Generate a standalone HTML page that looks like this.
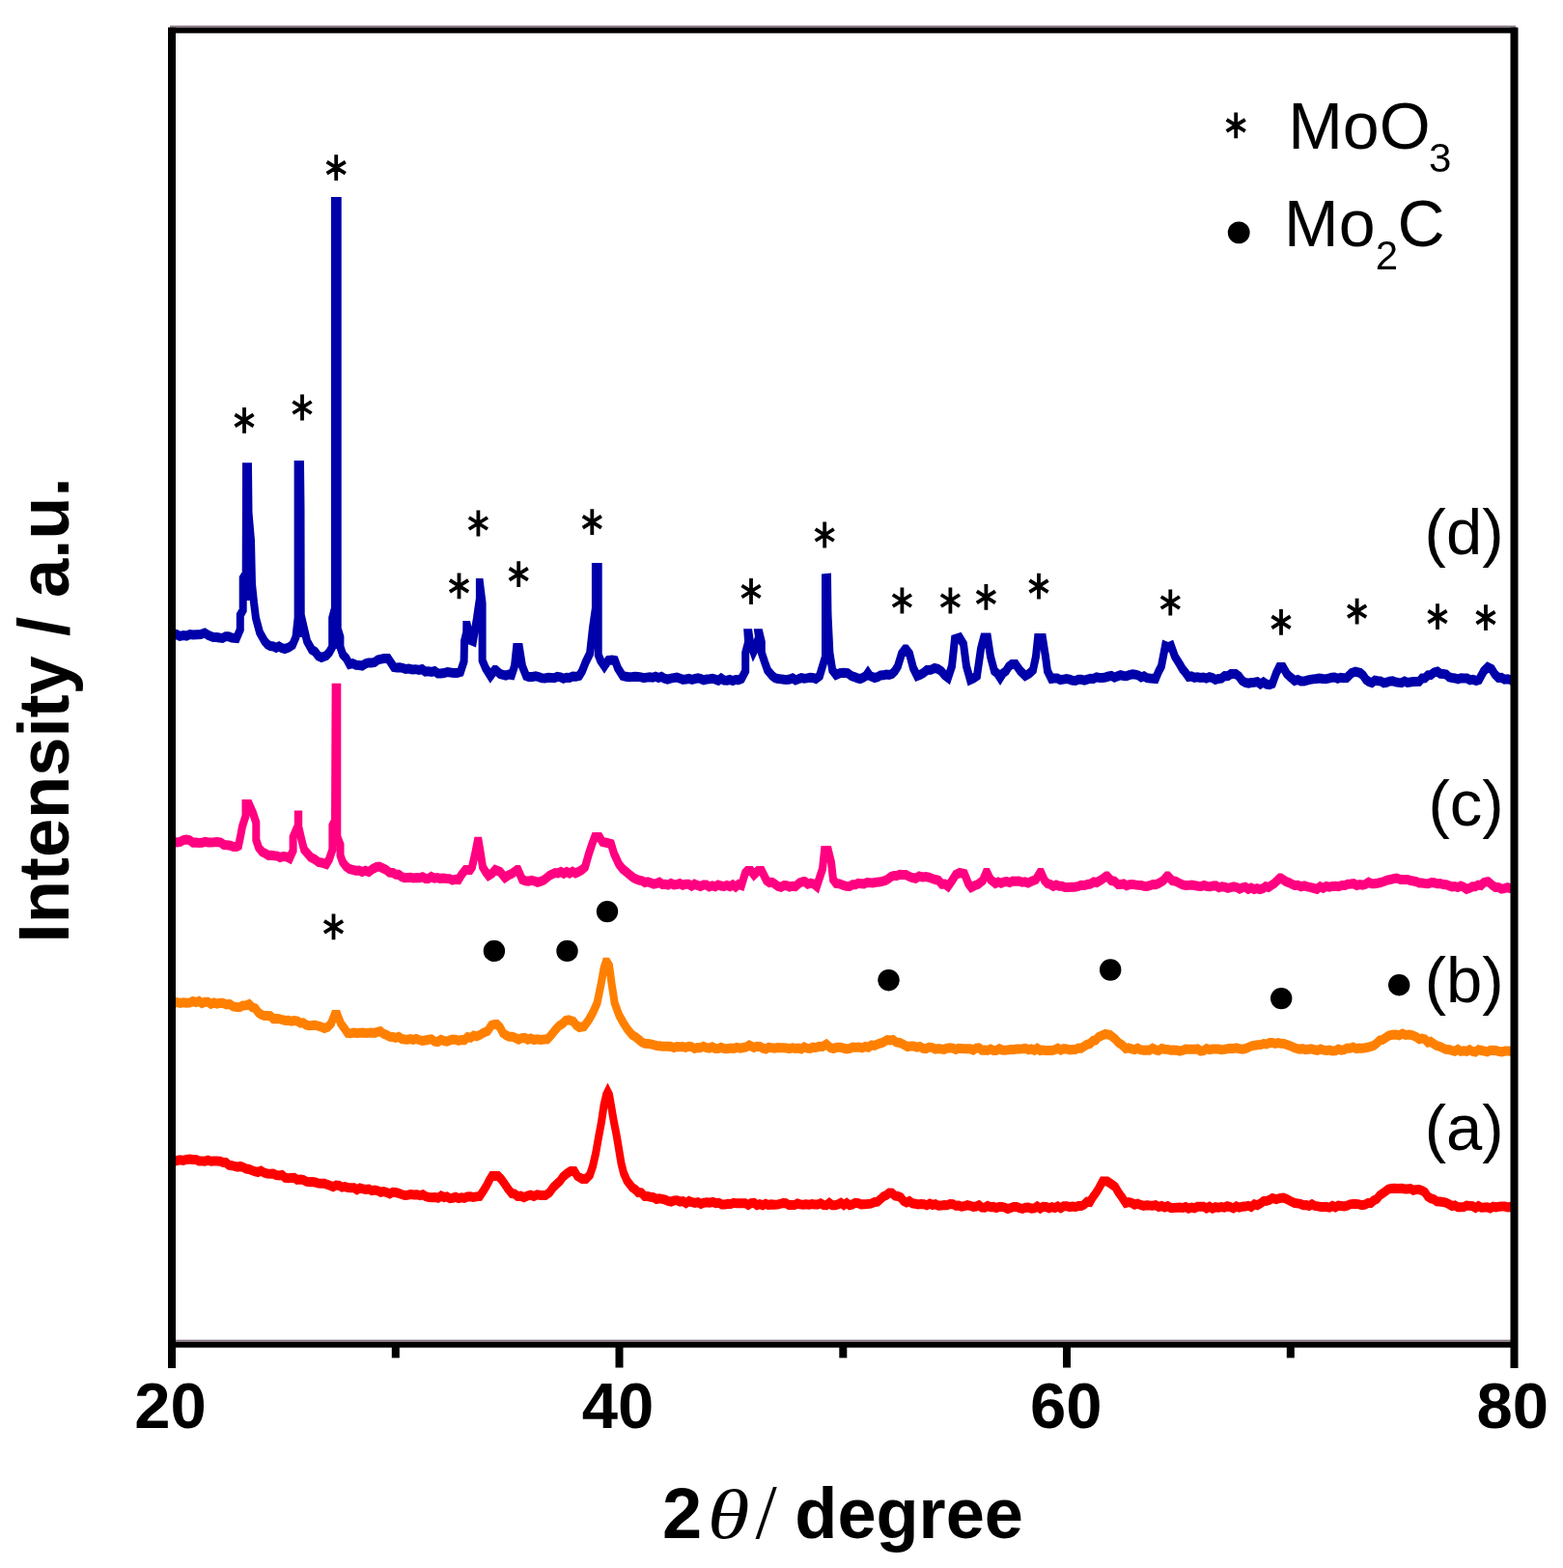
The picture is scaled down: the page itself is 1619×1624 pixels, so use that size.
<!DOCTYPE html>
<html><head><meta charset="utf-8"><title>XRD patterns</title>
<style>
html,body{margin:0;padding:0;background:#fff;}
body{width:1619px;height:1624px;overflow:hidden;position:relative;}
svg{position:absolute;left:0;top:0;}
.t{font-family:"Liberation Sans",Arial,sans-serif;fill:#000;}
</style></head><body>
<svg width="1619" height="1624" viewBox="0 0 1619 1624">
<g fill="none" stroke-linejoin="miter" stroke-miterlimit="3" stroke-linecap="butt" stroke-width="8" transform="scale(1,1.25)">
<path d="M180.0 962.40 L183.3 961.62 L186.6 961.12 L189.9 961.50 L193.1 960.77 L196.4 960.36 L199.7 960.82 L203.0 960.80 L206.1 961.94 L209.2 961.96 L212.3 962.15 L215.4 961.29 L218.6 962.21 L221.7 961.94 L224.8 961.99 L227.9 962.11 L231.0 963.20 L234.0 963.23 L237.0 965.33 L240.0 965.75 L243.0 966.33 L246.0 966.94 L249.0 966.30 L252.0 967.16 L255.0 968.44 L258.0 968.80 L261.1 969.82 L264.2 970.60 L267.3 971.19 L270.4 970.07 L273.6 971.69 L276.7 972.36 L279.8 972.55 L282.9 972.40 L286.0 973.60 L289.1 973.99 L292.2 973.63 L295.3 975.84 L298.4 976.14 L301.6 975.92 L304.7 975.85 L307.8 977.56 L310.9 977.31 L314.0 977.60 L317.1 978.93 L320.2 979.39 L323.3 979.22 L326.4 979.55 L329.6 980.47 L332.7 980.66 L335.8 980.63 L338.9 981.46 L342.0 982.40 L345.1 983.32 L348.2 981.98 L351.2 982.26 L354.3 983.73 L357.4 983.28 L360.5 984.07 L363.6 984.21 L366.7 984.21 L369.8 985.83 L372.8 984.43 L375.9 985.15 L379.0 985.60 L382.1 985.31 L385.2 986.54 L388.2 986.13 L391.3 986.63 L394.4 987.78 L397.5 987.23 L400.6 988.06 L403.7 989.11 L406.8 987.77 L409.8 988.02 L412.9 988.70 L416.0 989.60 L419.1 990.32 L422.3 990.18 L425.4 989.57 L428.6 989.93 L431.7 989.79 L434.9 990.54 L438.0 989.85 L441.1 991.38 L444.3 991.97 L447.4 992.26 L450.6 991.97 L453.7 992.61 L456.9 990.83 L460.0 992.00 L463.0 991.56 L466.0 992.97 L469.0 992.57 L472.0 991.81 L475.0 992.92 L478.0 992.25 L481.0 992.66 L484.0 991.57 L487.0 991.36 L490.0 992.00 L493.5 991.48 L497.0 991.20 L501.0 986.40 L504.0 982.40 L507.0 977.60 L509.5 974.40 L513.0 974.40 L516.0 974.40 L519.0 976.80 L522.0 980.00 L526.0 984.80 L530.0 988.80 L533.0 989.24 L536.0 991.20 L539.4 990.95 L542.8 992.16 L546.2 990.85 L549.6 990.18 L553.0 991.20 L556.5 989.85 L560.0 990.40 L565.0 990.40 L569.3 988.00 L573.1 983.71 L577.0 980.80 L580.0 978.59 L583.0 975.20 L587.0 972.51 L591.0 970.40 L595.0 970.40 L598.0 974.40 L603.0 976.80 L607.0 976.80 L611.0 973.60 L614.0 966.40 L617.0 956.00 L620.0 942.40 L623.0 929.60 L625.5 916.00 L628.0 907.20 L629.5 904.80 L631.0 907.20 L633.0 916.00 L635.5 928.00 L638.5 940.00 L641.0 952.00 L643.5 964.00 L646.0 972.00 L649.5 978.40 L655.0 984.00 L658.0 985.56 L661.0 988.00 L664.3 988.23 L667.7 991.14 L671.0 991.20 L674.0 991.84 L677.0 992.19 L680.0 993.60 L683.0 993.08 L686.0 993.47 L689.0 994.11 L692.0 995.20 L695.1 995.68 L698.2 994.70 L701.3 994.59 L704.4 995.64 L707.5 995.25 L710.6 996.92 L713.7 995.21 L716.8 996.18 L719.9 996.80 L723.0 996.15 L726.0 997.47 L729.1 996.53 L732.2 996.15 L735.3 996.61 L738.4 995.95 L741.5 996.86 L744.6 996.62 L747.7 998.07 L750.8 998.06 L753.9 997.48 L757.0 997.60 L760.0 996.63 L763.0 997.09 L766.0 997.06 L769.0 996.99 L772.0 997.04 L775.0 998.37 L778.0 996.85 L781.0 996.67 L784.0 998.49 L787.0 997.74 L790.0 998.62 L793.0 997.40 L796.0 998.43 L799.0 997.92 L802.0 998.20 L805.0 998.11 L808.0 997.59 L811.0 996.75 L814.0 997.00 L817.0 998.38 L820.0 998.43 L823.0 998.48 L826.0 997.26 L829.0 997.93 L832.0 998.22 L835.0 997.90 L838.0 998.25 L841.0 997.66 L844.0 997.92 L847.0 997.99 L850.0 997.12 L853.0 998.48 L856.0 998.55 L859.0 996.71 L862.0 998.58 L865.0 998.56 L868.0 997.95 L871.0 996.65 L874.0 998.43 L877.0 996.83 L880.0 998.57 L883.0 997.95 L886.0 996.69 L889.0 996.91 L892.0 997.88 L895.0 997.74 L898.0 997.60 L902.0 997.31 L906.0 996.00 L909.0 995.69 L912.0 993.60 L915.0 991.41 L918.0 990.40 L921.0 988.45 L924.0 988.56 L927.0 990.76 L930.0 991.20 L933.0 992.19 L936.0 995.20 L939.0 996.38 L942.0 995.20 L945.0 997.04 L948.0 997.39 L951.0 997.99 L954.0 997.60 L957.0 997.81 L960.0 998.59 L963.0 997.29 L966.0 998.37 L969.0 997.76 L972.0 999.03 L975.0 998.89 L978.0 998.37 L981.0 998.58 L984.0 997.65 L987.0 997.77 L990.0 999.04 L993.0 998.92 L996.0 999.80 L999.0 999.37 L1002.0 998.50 L1005.0 999.07 L1008.0 1000.01 L1011.0 999.61 L1014.0 998.65 L1017.0 1000.47 L1020.0 1000.55 L1023.0 999.11 L1026.0 1000.17 L1029.0 999.93 L1032.0 1000.88 L1035.0 999.99 L1038.0 999.94 L1041.0 1000.57 L1044.0 1001.67 L1047.0 1000.80 L1050.0 999.92 L1053.1 999.93 L1056.1 1000.94 L1059.2 1001.46 L1062.2 1000.64 L1065.3 1000.44 L1068.3 1001.29 L1071.4 1001.08 L1074.4 999.57 L1077.5 1001.23 L1080.5 999.77 L1083.5 999.95 L1086.6 1001.03 L1089.6 1000.13 L1092.7 1000.88 L1095.7 999.53 L1098.8 1000.96 L1101.8 999.47 L1104.9 999.38 L1107.9 1000.06 L1111.0 999.70 L1114.0 1000.00 L1117.0 999.29 L1120.0 999.24 L1123.0 998.04 L1126.0 995.77 L1129.0 996.00 L1132.0 991.88 L1135.0 988.63 L1138.0 984.80 L1142.0 978.88 L1147.0 978.88 L1151.0 981.01 L1155.0 983.20 L1158.7 988.18 L1162.3 992.23 L1166.0 996.80 L1169.1 996.13 L1172.2 996.69 L1175.3 998.15 L1178.4 997.34 L1181.5 998.41 L1184.6 999.07 L1187.7 998.54 L1190.8 998.85 L1193.9 998.92 L1197.1 998.52 L1200.2 999.97 L1203.3 999.26 L1206.4 1000.39 L1209.5 999.34 L1212.6 1000.72 L1215.7 1000.77 L1218.8 1000.61 L1221.9 1000.47 L1225.0 1000.80 L1228.1 1000.02 L1231.2 1001.29 L1234.3 1000.41 L1237.3 1001.00 L1240.4 999.86 L1243.5 999.72 L1246.6 999.82 L1249.7 1001.16 L1252.8 999.82 L1255.9 1001.29 L1259.0 1000.15 L1262.0 1000.54 L1265.1 1000.04 L1268.2 1000.56 L1271.3 999.43 L1274.4 1000.04 L1277.5 1001.12 L1280.6 999.51 L1283.7 1000.46 L1286.7 999.74 L1289.8 999.65 L1292.9 999.04 L1296.0 1000.00 L1299.2 997.80 L1302.5 998.53 L1305.8 997.09 L1309.0 995.20 L1312.0 995.03 L1315.0 994.24 L1318.0 992.80 L1322.0 993.74 L1326.0 992.80 L1329.5 992.49 L1333.0 993.60 L1337.0 995.38 L1341.0 996.80 L1344.0 997.08 L1347.0 997.54 L1350.0 998.58 L1353.0 998.50 L1356.0 999.23 L1359.0 997.75 L1362.0 999.15 L1365.0 999.49 L1368.0 999.93 L1371.0 999.95 L1374.0 1000.00 L1377.1 1000.48 L1380.1 999.16 L1383.2 1000.25 L1386.3 998.95 L1389.3 999.14 L1392.4 999.55 L1395.5 998.93 L1398.5 997.90 L1401.6 997.52 L1404.7 997.51 L1407.7 997.92 L1410.8 998.47 L1413.9 998.06 L1416.9 996.81 L1420.0 996.80 L1423.0 994.67 L1426.0 993.62 L1429.0 990.59 L1432.0 988.94 L1435.0 987.20 L1438.0 985.33 L1441.0 984.84 L1444.0 984.64 L1448.0 984.72 L1452.0 984.64 L1455.0 985.20 L1458.0 985.20 L1461.0 984.84 L1464.0 986.22 L1467.0 985.70 L1470.0 985.60 L1473.0 986.48 L1476.0 987.90 L1479.0 991.39 L1482.0 993.01 L1485.0 993.60 L1488.2 995.41 L1491.3 995.68 L1494.5 996.01 L1497.7 996.48 L1500.8 997.76 L1504.0 999.20 L1507.0 998.70 L1510.1 1000.24 L1513.1 1000.25 L1516.2 1000.08 L1519.2 998.85 L1522.3 999.11 L1525.3 999.32 L1528.4 1000.74 L1531.4 999.19 L1534.5 1000.57 L1537.5 1000.41 L1540.6 1000.21 L1543.6 1001.15 L1546.7 999.77 L1549.7 1000.39 L1552.8 999.71 L1555.8 999.66 L1558.9 999.60 L1561.9 1000.27 L1565.0 999.94 L1568.0 1000.80" stroke="#ff0000"/>
<path d="M180.0 831.20 L183.3 830.54 L186.6 831.06 L189.9 830.59 L193.1 830.96 L196.4 830.89 L199.7 829.61 L203.0 830.40 L206.1 829.48 L209.2 831.28 L212.3 830.17 L215.4 830.20 L218.6 831.88 L221.7 830.87 L224.8 831.72 L227.9 831.06 L231.0 831.20 L234.5 832.29 L238.0 832.07 L241.5 833.88 L245.0 834.40 L248.2 834.57 L251.5 833.25 L254.8 833.10 L258.0 832.00 L261.2 834.56 L264.5 835.49 L267.8 839.14 L271.0 840.80 L274.0 841.63 L277.0 841.67 L280.0 841.74 L283.0 844.12 L286.0 844.00 L289.2 844.21 L292.3 844.99 L295.5 845.59 L298.7 845.51 L301.8 846.21 L305.0 845.60 L308.0 846.05 L311.0 847.56 L314.0 847.48 L317.0 849.17 L320.0 849.72 L323.0 849.60 L326.2 849.36 L329.5 850.04 L332.8 850.81 L336.0 852.00 L339.5 850.97 L343.0 848.00 L346.5 840.80 L349.5 840.80 L353.0 848.00 L356.5 851.87 L360.0 856.00 L363.2 856.26 L366.3 855.59 L369.5 856.02 L372.7 855.76 L375.8 855.69 L379.0 856.00 L382.0 855.86 L385.0 855.54 L388.0 855.88 L391.0 855.10 L394.0 854.40 L397.2 856.49 L400.5 857.54 L403.8 859.02 L407.0 859.20 L410.0 859.82 L413.0 859.03 L416.0 860.75 L419.0 861.23 L422.0 861.38 L425.0 860.94 L428.0 861.51 L431.0 860.73 L434.0 861.60 L437.2 862.39 L440.5 861.95 L443.8 861.45 L447.0 861.09 L450.2 862.84 L453.5 863.22 L456.8 861.44 L460.0 862.40 L463.0 862.89 L466.0 861.95 L469.0 861.27 L472.0 861.44 L475.0 862.29 L478.0 861.60 L481.2 861.71 L484.3 859.32 L487.5 859.84 L490.7 857.99 L493.8 858.72 L497.0 857.60 L501.0 855.65 L505.0 854.40 L509.0 849.60 L512.0 848.80 L515.0 848.80 L518.0 851.20 L521.0 856.00 L524.2 857.79 L527.5 859.00 L530.8 859.01 L534.0 860.00 L537.2 861.30 L540.3 860.14 L543.5 859.92 L546.7 861.27 L549.8 860.36 L553.0 861.60 L556.5 860.97 L560.0 861.60 L563.5 861.17 L567.0 861.12 L571.0 857.59 L575.0 853.60 L579.0 850.08 L583.0 848.00 L586.0 845.57 L589.0 845.04 L594.0 846.40 L597.0 849.56 L600.0 851.20 L605.0 850.40 L610.0 844.80 L614.0 839.20 L618.5 831.20 L622.6 815.20 L625.5 802.40 L627.5 797.44 L629.0 797.44 L631.0 800.00 L633.6 815.20 L636.7 831.20 L641.5 841.60 L646.0 848.00 L650.0 852.80 L655.0 857.60 L658.5 859.21 L662.0 861.60 L665.0 863.62 L668.0 864.56 L671.0 864.80 L674.0 865.08 L677.0 865.78 L680.0 866.40 L683.0 866.56 L686.0 866.93 L689.0 866.94 L692.0 866.98 L695.0 867.22 L698.0 868.00 L701.0 867.20 L704.1 867.31 L707.1 867.26 L710.2 867.96 L713.2 867.05 L716.3 867.29 L719.4 868.79 L722.4 867.94 L725.5 868.10 L728.6 867.08 L731.6 868.02 L734.7 868.47 L737.8 867.40 L740.8 868.74 L743.9 868.87 L746.9 867.78 L750.0 868.80 L753.3 868.93 L756.7 868.46 L760.0 868.77 L763.3 867.96 L766.7 868.56 L770.0 868.00 L773.0 867.50 L776.0 866.00 L781.0 868.00 L784.1 867.06 L787.1 867.20 L790.2 868.54 L793.3 869.19 L796.4 867.77 L799.4 868.25 L802.5 868.59 L805.6 868.08 L808.6 868.23 L811.7 868.18 L814.8 868.36 L817.9 868.88 L820.9 868.33 L824.0 868.80 L827.0 868.43 L830.0 869.14 L833.0 867.47 L836.0 868.49 L839.0 868.72 L842.0 867.72 L845.0 868.00 L848.5 867.02 L852.0 867.20 L856.0 865.20 L860.0 868.00 L863.3 868.77 L866.7 867.72 L870.0 867.75 L873.3 868.40 L876.7 869.08 L880.0 868.80 L883.2 867.67 L886.5 867.83 L889.8 867.55 L893.0 868.29 L896.2 867.17 L899.5 867.74 L902.8 866.01 L906.0 866.40 L910.0 864.86 L914.0 864.00 L919.0 861.60 L922.0 861.91 L925.0 861.60 L928.5 863.60 L932.0 864.00 L936.0 865.50 L940.0 867.20 L943.2 866.79 L946.4 866.73 L949.6 867.74 L952.8 867.20 L956.0 868.64 L959.2 868.86 L962.4 867.66 L965.6 868.02 L968.8 869.28 L972.0 868.80 L975.0 869.13 L978.0 869.50 L981.0 868.57 L984.0 868.16 L987.0 868.53 L990.0 869.60 L993.0 868.55 L996.0 868.74 L999.0 868.92 L1002.0 868.95 L1005.0 868.96 L1008.0 870.06 L1011.0 868.50 L1014.0 868.22 L1017.0 870.20 L1020.0 870.10 L1023.0 870.36 L1026.0 869.24 L1029.0 870.34 L1032.0 870.33 L1035.0 868.89 L1038.0 870.01 L1041.0 870.24 L1044.0 869.91 L1047.0 869.60 L1050.0 869.64 L1053.1 869.16 L1056.1 869.27 L1059.2 869.03 L1062.2 868.70 L1065.3 869.78 L1068.3 869.16 L1071.4 870.25 L1074.4 868.65 L1077.5 870.44 L1080.5 870.00 L1083.5 870.48 L1086.6 870.42 L1089.6 870.43 L1092.7 869.76 L1095.7 868.59 L1098.8 870.11 L1101.8 868.92 L1104.9 869.18 L1107.9 869.94 L1111.0 869.65 L1114.0 869.60 L1117.0 868.46 L1120.0 868.59 L1123.0 866.95 L1126.0 865.43 L1129.0 864.80 L1132.0 862.42 L1135.0 861.82 L1138.0 859.20 L1141.5 857.95 L1145.0 856.80 L1150.0 857.60 L1155.0 860.80 L1158.7 864.05 L1162.3 865.83 L1166.0 868.80 L1169.1 868.25 L1172.2 869.04 L1175.3 869.71 L1178.4 868.45 L1181.5 869.83 L1184.6 870.18 L1187.7 870.03 L1190.8 870.15 L1193.9 868.53 L1197.1 869.91 L1200.2 870.48 L1203.3 868.87 L1206.4 869.42 L1209.5 869.50 L1212.6 870.12 L1215.7 869.99 L1218.8 870.18 L1221.9 870.89 L1225.0 870.40 L1228.1 869.29 L1231.2 869.32 L1234.3 869.40 L1237.4 869.31 L1240.5 869.12 L1243.6 870.93 L1246.7 870.60 L1249.8 868.93 L1252.9 869.72 L1256.0 869.26 L1259.0 869.18 L1262.1 869.18 L1265.2 869.72 L1268.3 869.51 L1271.4 868.97 L1274.5 868.54 L1277.6 868.75 L1280.7 868.25 L1283.8 869.07 L1286.9 869.33 L1290.0 868.80 L1293.2 867.88 L1296.3 866.59 L1299.5 866.13 L1302.7 865.87 L1305.8 865.68 L1309.0 864.80 L1312.0 865.12 L1315.0 864.02 L1318.0 864.00 L1321.0 864.63 L1324.0 864.00 L1327.0 864.66 L1330.0 864.80 L1333.2 865.66 L1336.5 866.53 L1339.8 867.79 L1343.0 868.80 L1346.1 869.38 L1349.2 868.95 L1352.3 869.68 L1355.4 869.36 L1358.5 869.07 L1361.6 869.83 L1364.7 870.33 L1367.8 869.19 L1370.9 870.08 L1374.0 870.40 L1377.1 870.03 L1380.1 870.76 L1383.2 870.67 L1386.3 869.29 L1389.3 870.16 L1392.4 869.73 L1395.5 868.41 L1398.5 868.62 L1401.6 867.70 L1404.7 868.92 L1407.7 868.39 L1410.8 868.65 L1413.9 868.24 L1416.9 867.76 L1420.0 867.20 L1423.0 866.25 L1426.0 864.45 L1429.0 862.05 L1432.0 861.62 L1435.0 860.00 L1438.7 858.04 L1442.3 857.39 L1446.0 857.20 L1449.3 857.90 L1452.7 856.52 L1456.0 857.60 L1459.7 857.28 L1463.3 857.83 L1467.0 859.20 L1470.0 860.92 L1473.0 860.40 L1476.0 861.01 L1479.0 863.64 L1482.0 863.08 L1485.0 864.80 L1488.2 866.45 L1491.3 867.03 L1494.5 868.30 L1497.7 869.47 L1500.8 869.63 L1504.0 870.40 L1507.0 871.06 L1510.1 869.51 L1513.1 871.07 L1516.2 870.58 L1519.2 871.04 L1522.3 869.81 L1525.3 871.18 L1528.4 871.61 L1531.4 869.83 L1534.5 870.42 L1537.5 870.95 L1540.6 871.54 L1543.6 870.36 L1546.7 870.27 L1549.7 870.45 L1552.8 871.25 L1555.8 871.57 L1558.9 870.86 L1561.9 870.85 L1565.0 870.95 L1568.0 871.20" stroke="#ff8000"/>
<path d="M180.0 697.60 L183.3 698.02 L186.7 697.46 L190.0 696.00 L193.2 695.58 L196.5 696.14 L199.8 698.20 L203.0 698.00 L206.1 698.43 L209.3 698.24 L212.4 697.43 L215.6 697.99 L218.7 697.94 L221.9 697.83 L225.0 697.60 L228.5 698.09 L232.0 700.00 L235.2 700.26 L238.5 700.58 L241.8 701.66 L245.0 701.60 L247.0 700.80 L249.3 692.00 L251.0 684.80 L254.5 676.00 L254.5 666.40 L258.0 666.40 L262.0 673.60 L265.3 681.60 L265.3 696.00 L268.0 702.40 L271.5 705.83 L275.0 707.20 L278.0 708.77 L281.0 708.57 L284.0 709.01 L287.0 709.28 L290.0 710.40 L293.3 709.70 L296.7 709.95 L300.0 711.20 L303.6 704.80 L303.6 693.60 L308.8 684.00 L308.8 675.68 L309.2 675.68 L309.2 684.80 L312.4 696.00 L315.0 704.00 L318.5 707.13 L322.0 710.40 L326.0 712.02 L330.0 714.40 L334.0 714.95 L338.0 716.00 L341.0 712.00 L344.4 704.00 L344.4 684.00 L347.0 680.00 L347.6 570.24 L349.3 570.24 L349.3 693.44 L352.5 700.00 L352.5 708.80 L355.0 714.40 L358.5 718.01 L362.0 720.00 L365.2 720.65 L368.5 721.33 L371.8 721.25 L375.0 722.40 L378.5 721.41 L382.0 722.40 L386.0 720.04 L390.0 718.40 L393.0 718.04 L396.0 719.20 L399.7 720.55 L403.3 722.90 L407.0 723.20 L410.0 724.63 L413.0 724.67 L416.0 726.40 L419.1 727.29 L422.2 727.15 L425.2 727.09 L428.3 727.51 L431.4 727.28 L434.5 727.40 L437.6 726.56 L440.7 727.93 L443.8 727.96 L446.8 726.36 L449.9 727.66 L453.0 727.20 L456.1 727.88 L459.3 727.58 L462.4 727.95 L465.6 728.09 L468.7 729.23 L471.9 728.57 L475.0 728.80 L478.0 724.80 L482.0 720.80 L487.0 720.80 L489.0 718.40 L492.0 708.00 L494.6 697.36 L495.8 697.36 L498.0 708.00 L500.0 718.40 L503.0 722.40 L506.0 725.60 L509.5 723.89 L513.0 720.80 L518.0 722.40 L523.0 727.20 L526.5 725.30 L530.0 724.00 L535.4 720.80 L536.6 720.80 L541.0 728.80 L544.2 729.86 L547.3 730.16 L550.5 729.52 L553.7 730.01 L556.8 731.01 L560.0 730.40 L563.0 729.43 L566.0 727.49 L569.0 725.50 L572.0 724.28 L575.0 723.20 L578.0 723.52 L581.0 722.31 L584.0 723.75 L587.0 722.32 L590.0 723.56 L593.0 722.20 L596.0 723.45 L599.0 722.40 L602.5 720.83 L606.0 718.40 L610.0 707.20 L613.0 700.00 L616.0 693.60 L621.0 693.60 L624.0 697.60 L629.0 698.40 L633.0 699.20 L636.0 707.20 L641.0 716.00 L645.0 720.00 L648.7 722.41 L652.3 724.84 L656.0 727.20 L659.0 728.51 L662.0 729.38 L665.0 729.81 L668.0 731.20 L671.0 730.74 L674.0 731.52 L677.0 732.54 L680.0 732.04 L683.0 731.04 L686.0 732.74 L689.0 732.69 L692.0 733.21 L695.0 731.87 L698.0 733.16 L701.0 732.80 L704.1 731.98 L707.1 733.32 L710.2 732.63 L713.2 732.63 L716.3 734.08 L719.4 732.58 L722.4 733.55 L725.5 734.34 L728.6 733.17 L731.6 733.20 L734.7 734.69 L737.8 733.84 L740.8 734.55 L743.9 733.23 L746.9 734.01 L750.0 734.40 L753.0 733.58 L756.0 734.49 L759.0 733.13 L762.0 734.81 L765.0 732.75 L768.0 733.60 L772.0 723.20 L774.0 721.60 L778.0 721.60 L781.0 724.80 L785.0 721.60 L789.0 721.60 L794.0 729.60 L797.0 731.28 L800.0 731.00 L803.0 732.69 L806.0 734.40 L809.0 735.05 L812.0 733.69 L815.0 733.74 L818.0 734.80 L821.0 734.16 L824.0 734.40 L828.2 731.45 L832.4 730.40 L833.6 730.40 L836.7 732.42 L839.8 731.67 L842.9 732.44 L846.0 734.40 L852.0 720.00 L854.0 704.80 L858.0 704.80 L861.0 714.40 L863.0 728.80 L866.0 732.00 L869.5 732.28 L873.0 733.44 L876.5 734.30 L880.0 734.40 L883.0 733.06 L886.0 732.99 L889.0 731.82 L892.0 732.16 L895.0 732.29 L898.0 731.20 L901.2 731.43 L904.3 731.50 L907.5 730.93 L910.7 730.89 L913.8 730.29 L917.0 729.60 L920.0 728.21 L923.0 726.36 L926.0 725.60 L929.0 725.67 L932.0 724.68 L935.0 724.80 L938.3 724.77 L941.7 726.29 L945.0 727.20 L948.5 727.78 L952.0 726.03 L955.5 726.78 L959.0 726.40 L962.3 726.98 L965.7 728.03 L969.0 728.80 L972.2 729.46 L975.5 732.56 L978.8 732.50 L982.0 734.40 L986.0 729.82 L990.0 724.80 L994.0 723.20 L999.0 724.00 L1003.0 732.00 L1006.0 735.20 L1009.5 733.83 L1013.0 732.80 L1018.0 729.60 L1021.4 723.20 L1022.6 723.20 L1026.0 728.80 L1031.0 732.00 L1034.0 730.84 L1037.0 731.80 L1040.0 730.77 L1043.0 730.44 L1046.0 731.20 L1049.1 730.12 L1052.3 730.27 L1055.4 730.02 L1058.6 731.02 L1061.7 730.65 L1064.9 731.52 L1068.0 730.40 L1073.0 728.80 L1077.2 723.20 L1078.4 723.20 L1082.0 729.60 L1085.0 732.10 L1088.0 732.80 L1091.0 734.31 L1094.0 733.20 L1097.0 734.12 L1100.0 734.20 L1103.0 735.20 L1106.3 735.12 L1109.7 734.92 L1113.0 735.02 L1116.3 734.57 L1119.7 733.36 L1123.0 733.60 L1126.2 732.84 L1129.5 732.45 L1132.8 730.77 L1136.0 731.20 L1141.0 728.80 L1145.8 726.08 L1147.0 726.08 L1151.0 729.60 L1154.5 730.23 L1158.0 732.80 L1161.0 732.77 L1164.0 732.31 L1167.0 733.75 L1170.0 732.90 L1173.0 732.77 L1176.0 733.10 L1179.0 733.36 L1182.0 733.49 L1185.0 734.28 L1188.0 734.40 L1191.0 733.73 L1194.0 732.80 L1197.0 732.89 L1200.0 732.00 L1205.0 729.60 L1208.8 726.08 L1210.0 726.08 L1214.0 729.60 L1218.0 730.20 L1222.0 732.00 L1225.1 733.19 L1228.3 733.65 L1231.4 733.50 L1234.6 733.23 L1237.7 733.74 L1240.9 734.23 L1244.0 734.40 L1247.1 733.53 L1250.2 734.36 L1253.2 734.65 L1256.3 734.00 L1259.4 733.89 L1262.5 735.43 L1265.6 734.59 L1268.7 734.97 L1271.8 735.88 L1274.8 735.30 L1277.9 734.70 L1281.0 735.20 L1284.0 736.47 L1287.0 735.47 L1290.0 735.00 L1293.0 736.65 L1296.0 735.70 L1299.0 736.80 L1302.0 736.08 L1305.0 736.87 L1308.0 736.20 L1311.0 734.51 L1314.0 735.20 L1317.0 733.50 L1320.0 732.00 L1325.6 727.60 L1326.8 727.60 L1332.0 730.40 L1335.0 731.28 L1338.0 732.50 L1341.0 733.60 L1344.3 733.39 L1347.7 734.58 L1351.0 733.91 L1354.3 734.75 L1357.7 735.34 L1361.0 736.00 L1364.2 736.67 L1367.4 734.64 L1370.6 735.81 L1373.8 734.40 L1377.0 734.95 L1380.2 734.33 L1383.4 734.24 L1386.6 734.61 L1389.8 733.62 L1393.0 733.60 L1396.1 732.61 L1399.2 732.41 L1402.2 732.13 L1405.3 733.53 L1408.4 732.89 L1411.5 733.36 L1414.6 732.60 L1417.7 731.01 L1420.8 732.13 L1423.8 732.18 L1426.9 731.86 L1430.0 731.20 L1433.3 730.40 L1436.7 729.30 L1440.0 728.80 L1443.3 728.11 L1446.6 727.60 L1450.8 728.82 L1455.0 728.80 L1458.0 728.72 L1461.0 729.65 L1464.0 729.95 L1467.0 730.40 L1470.1 731.61 L1473.2 731.57 L1476.3 732.10 L1479.4 732.17 L1482.6 731.31 L1485.7 731.44 L1488.8 732.24 L1491.9 732.03 L1495.0 732.80 L1498.0 733.01 L1501.0 733.88 L1504.0 734.74 L1507.0 734.40 L1510.0 735.24 L1513.0 734.09 L1516.0 734.99 L1519.0 736.68 L1522.0 736.00 L1525.0 734.66 L1528.0 734.63 L1531.0 733.30 L1534.0 733.60 L1537.2 731.22 L1540.4 730.56 L1541.6 730.56 L1546.0 733.60 L1549.0 735.22 L1552.0 735.20 L1555.2 736.54 L1558.4 736.15 L1561.6 735.39 L1564.8 736.06 L1568.0 736.80" stroke="#ff0080"/>
<path d="M179.0 526.40 L182.7 525.64 L186.3 527.12 L190.0 526.40 L193.3 526.82 L196.7 525.62 L200.0 526.00 L204.0 525.79 L208.0 525.60 L212.0 524.40 L216.0 526.40 L221.0 528.00 L224.2 527.96 L227.3 528.45 L230.5 528.80 L233.7 527.42 L236.8 527.35 L240.0 528.40 L245.0 528.80 L248.8 521.60 L248.8 509.60 L251.7 505.60 L251.7 479.20 L254.7 475.20 L255.0 387.36 L257.0 387.36 L257.5 424.80 L260.0 448.00 L261.0 484.00 L263.0 499.20 L265.0 512.00 L269.0 524.00 L274.0 531.20 L277.0 533.90 L280.0 535.20 L283.0 535.54 L286.0 536.71 L289.0 535.60 L292.0 537.01 L295.0 537.60 L299.0 536.46 L303.0 534.40 L306.4 528.00 L308.6 512.00 L308.6 385.60 L311.0 385.60 L311.5 420.80 L311.7 509.60 L314.7 520.00 L318.0 531.20 L323.0 538.40 L326.3 539.97 L329.7 543.59 L333.0 544.80 L338.0 543.20 L341.1 540.43 L344.2 536.00 L344.2 512.00 L346.9 504.00 L346.9 167.20 L349.7 167.20 L349.7 520.80 L352.4 528.00 L352.4 536.00 L355.1 542.40 L358.6 545.42 L362.0 550.40 L365.3 549.68 L368.7 551.02 L372.0 551.20 L375.2 551.63 L378.4 549.99 L381.6 549.17 L384.8 549.12 L388.0 548.80 L391.3 546.75 L394.7 546.09 L398.0 545.60 L402.0 545.60 L405.0 549.07 L408.0 552.80 L411.0 553.19 L414.0 553.04 L417.0 553.44 L420.0 554.40 L423.5 554.02 L427.0 554.72 L430.5 554.56 L434.0 555.20 L437.2 554.50 L440.5 556.50 L443.8 556.22 L447.0 556.70 L450.2 556.05 L453.5 558.02 L456.8 558.05 L460.0 557.60 L463.3 556.81 L466.7 557.25 L470.0 557.60 L473.5 557.66 L477.0 556.80 L480.6 548.00 L481.0 531.20 L483.2 524.00 L483.3 518.40 L484.0 518.40 L487.5 530.40 L490.0 531.20 L494.0 512.00 L496.9 496.00 L496.9 483.20 L497.0 483.20 L499.6 500.00 L499.6 547.20 L503.0 553.60 L508.0 560.00 L512.4 555.20 L513.6 555.20 L518.0 558.40 L521.0 559.04 L524.0 559.71 L527.0 558.84 L530.0 559.20 L533.0 552.00 L535.0 536.80 L538.0 536.80 L541.0 552.00 L545.0 560.00 L548.2 560.89 L551.5 560.75 L554.8 560.19 L558.0 560.98 L561.2 561.80 L564.5 561.92 L567.8 561.41 L571.0 561.60 L574.2 561.79 L577.3 560.63 L580.5 561.06 L583.7 562.22 L586.8 561.42 L590.0 561.60 L593.3 560.39 L596.7 560.63 L600.0 560.00 L603.0 556.00 L607.0 548.00 L611.0 541.60 L614.0 520.00 L616.9 504.00 L616.9 470.40 L619.7 470.40 L619.7 542.40 L622.0 547.20 L626.0 552.00 L630.0 547.20 L634.0 546.80 L637.0 547.20 L640.0 553.60 L645.0 560.00 L648.3 560.69 L651.7 560.90 L655.0 560.80 L658.0 560.63 L661.0 560.85 L664.0 561.08 L667.0 561.73 L670.0 561.29 L673.0 561.11 L676.0 561.40 L679.0 560.53 L682.0 561.60 L685.2 560.72 L688.3 562.16 L691.5 562.81 L694.7 562.06 L697.8 561.71 L701.0 561.31 L704.2 562.07 L707.3 563.14 L710.5 562.76 L713.7 562.35 L716.8 563.08 L720.0 562.40 L723.0 561.91 L726.0 562.56 L729.0 563.54 L732.0 562.83 L735.0 562.65 L738.0 562.32 L741.0 562.97 L744.0 563.88 L747.0 561.97 L750.0 563.66 L753.0 563.80 L756.0 563.20 L759.0 564.00 L762.0 563.20 L765.0 563.30 L768.0 562.40 L772.2 556.00 L772.2 540.80 L775.1 532.00 L774.5 524.96 L775.7 524.96 L777.0 532.00 L780.5 540.00 L782.0 537.60 L786.0 528.00 L785.5 524.96 L786.7 524.96 L788.8 532.00 L788.8 540.80 L791.8 548.00 L795.0 555.20 L800.0 560.00 L803.0 561.84 L806.0 562.40 L809.0 562.71 L812.0 563.06 L815.0 563.20 L818.0 562.87 L821.0 561.92 L824.0 563.44 L827.0 562.63 L830.0 561.69 L833.0 562.14 L836.0 561.92 L839.0 561.48 L842.0 561.60 L845.0 562.40 L849.0 560.00 L852.0 552.00 L855.0 544.00 L855.0 479.20 L857.0 479.04 L857.5 508.80 L859.4 540.80 L862.2 555.20 L866.0 559.20 L870.0 557.76 L874.0 557.44 L878.0 557.76 L882.0 560.00 L885.0 560.88 L888.0 561.86 L891.0 562.40 L894.0 561.43 L897.0 560.00 L899.0 557.60 L901.0 560.00 L906.0 561.60 L909.0 560.98 L912.0 559.55 L915.0 559.44 L918.0 558.80 L921.0 559.11 L924.0 558.40 L927.0 555.95 L930.0 552.00 L934.0 541.60 L937.4 538.00 L938.6 538.00 L942.0 541.60 L946.0 553.60 L950.0 560.00 L953.3 559.02 L956.7 557.42 L960.0 555.20 L964.0 555.06 L968.0 553.60 L971.5 554.29 L975.0 556.00 L978.5 559.51 L982.0 561.60 L986.0 552.00 L989.0 529.60 L994.0 528.32 L998.0 533.60 L1001.0 552.00 L1005.0 563.20 L1008.5 561.96 L1012.0 560.00 L1016.0 537.60 L1019.0 528.32 L1023.0 528.32 L1026.0 544.00 L1030.0 556.00 L1033.0 557.93 L1036.0 561.60 L1039.0 557.79 L1042.0 556.00 L1045.0 552.19 L1048.0 550.40 L1052.0 550.40 L1057.0 556.00 L1062.0 560.00 L1066.0 558.13 L1070.0 555.20 L1073.0 544.00 L1075.0 528.80 L1080.0 528.80 L1083.0 544.00 L1085.0 556.00 L1089.0 562.40 L1092.1 562.08 L1095.2 561.99 L1098.4 563.26 L1101.5 562.88 L1104.6 562.50 L1107.8 562.89 L1110.9 563.86 L1114.0 564.00 L1117.1 563.04 L1120.2 562.99 L1123.3 563.64 L1126.4 562.84 L1129.6 562.30 L1132.7 562.35 L1135.8 561.14 L1138.9 561.63 L1142.0 561.60 L1145.1 561.17 L1148.2 560.42 L1151.3 559.99 L1154.4 561.36 L1157.6 560.29 L1160.7 559.39 L1163.8 559.95 L1166.9 560.13 L1170.0 559.20 L1173.0 558.56 L1176.0 558.91 L1179.0 559.53 L1182.0 561.08 L1185.0 560.27 L1188.0 561.76 L1191.0 562.06 L1194.0 562.14 L1197.0 562.40 L1200.0 556.62 L1203.0 552.00 L1207.0 535.20 L1210.0 536.19 L1213.0 535.20 L1217.0 544.00 L1222.0 550.40 L1225.0 554.49 L1228.0 557.37 L1231.0 560.80 L1234.1 560.38 L1237.2 561.43 L1240.3 561.06 L1243.4 561.60 L1246.5 561.23 L1249.6 562.03 L1252.7 561.00 L1255.8 561.66 L1258.9 563.21 L1262.0 562.40 L1265.2 562.18 L1268.5 560.00 L1271.8 560.15 L1275.0 558.40 L1280.0 558.40 L1283.3 560.41 L1286.7 564.11 L1290.0 565.60 L1293.1 566.20 L1296.2 565.60 L1299.3 565.35 L1302.4 564.93 L1305.6 566.83 L1308.7 565.17 L1311.8 566.89 L1314.9 567.27 L1318.0 566.40 L1322.0 557.60 L1325.0 552.80 L1329.0 552.80 L1333.0 558.40 L1337.0 561.35 L1341.0 564.00 L1344.2 563.14 L1347.4 564.41 L1350.7 564.45 L1353.9 563.71 L1357.1 563.13 L1360.3 562.68 L1363.6 562.44 L1366.8 561.97 L1370.0 562.40 L1373.1 562.66 L1376.2 562.06 L1379.4 561.46 L1382.5 561.18 L1385.6 562.25 L1388.8 561.38 L1391.9 561.70 L1395.0 561.60 L1400.0 557.60 L1404.0 556.48 L1409.0 557.60 L1412.0 559.64 L1415.0 563.17 L1418.0 564.80 L1421.1 565.63 L1424.1 563.80 L1427.2 564.18 L1430.2 564.44 L1433.3 565.81 L1436.4 565.39 L1439.4 564.47 L1442.5 564.20 L1445.6 565.16 L1448.6 565.50 L1451.7 565.70 L1454.8 564.48 L1457.8 565.60 L1460.9 565.19 L1463.9 564.77 L1467.0 564.80 L1470.0 564.69 L1473.0 562.01 L1476.0 561.91 L1479.0 559.46 L1482.0 559.20 L1485.5 557.15 L1489.0 556.48 L1492.0 558.29 L1495.0 558.40 L1498.0 558.87 L1501.0 561.07 L1504.0 561.60 L1507.1 561.99 L1510.2 562.67 L1513.3 561.86 L1516.4 561.98 L1519.6 562.05 L1522.7 563.43 L1525.8 563.06 L1528.9 563.97 L1532.0 563.20 L1537.0 556.00 L1541.0 552.80 L1545.0 554.40 L1548.5 558.81 L1552.0 561.60 L1555.2 561.48 L1558.4 562.99 L1561.6 562.70 L1564.8 563.20 L1568.0 564.80 M256.3 432.00 L256.3 497.60 M348.3 480.00 L348.3 537.60 M310.0 512.00 L310.0 528.00" stroke="#0000aa"/>
</g>
<g fill="#000">
<rect x="176" y="26.5" width="1394" height="2.2" fill="#857783"/>
<rect x="176" y="1387.6" width="1394" height="2.3" fill="#857783"/>
<rect x="174" y="28.6" width="1398" height="5.8"/>
<rect x="174" y="1389.9" width="1398" height="5.8"/>
<rect x="174" y="28.6" width="8" height="1388.4"/>
<rect x="1564.5" y="28.6" width="8" height="1388.4"/>
<rect x="637.5" y="1395" width="8" height="21.5"/>
<rect x="1101" y="1395" width="8" height="21.5"/>
<rect x="405.8" y="1395" width="8" height="11.4"/>
<rect x="869.3" y="1395" width="8" height="11.4"/>
<rect x="1332.8" y="1395" width="8" height="11.4"/>
</g>
<path d="M253.0 422.0V448.8M243.4 429.4L262.6 441.4M243.4 441.4L262.6 429.4M313.0 408.6V435.4M303.4 416.0L322.6 428.0M303.4 428.0L322.6 416.0M348.2 160.2V187.0M338.6 167.6L357.8 179.6M338.6 179.6L357.8 167.6M475.5 593.4V620.2M465.9 600.8L485.1 612.8M465.9 612.8L485.1 600.8M495.4 528.6V555.4M485.8 536.0L505.0 548.0M485.8 548.0L505.0 536.0M537.2 581.2V608.0M527.6 588.6L546.8 600.6M527.6 600.6L546.8 588.6M613.3 527.2V554.0M603.7 534.6L622.9 546.6M603.7 546.6L622.9 534.6M778.0 599.1V625.9M768.4 606.5L787.6 618.5M768.4 618.5L787.6 606.5M854.2 540.6V567.4M844.6 548.0L863.8 560.0M844.6 560.0L863.8 548.0M934.4 608.6V635.4M924.8 616.0L944.0 628.0M924.8 628.0L944.0 616.0M984.4 608.6V635.4M974.8 616.0L994.0 628.0M974.8 628.0L994.0 616.0M1021.4 605.0V631.8M1011.8 612.4L1031.0 624.4M1011.8 624.4L1031.0 612.4M1076.0 593.8V620.6M1066.4 601.2L1085.6 613.2M1066.4 613.2L1085.6 601.2M1212.3 610.6V637.4M1202.7 618.0L1221.9 630.0M1202.7 630.0L1221.9 618.0M1327.0 630.9V657.7M1317.4 638.3L1336.6 650.3M1317.4 650.3L1336.6 638.3M1405.6 619.8V646.6M1396.0 627.2L1415.2 639.2M1396.0 639.2L1415.2 627.2M1489.0 625.3V652.1M1479.4 632.7L1498.6 644.7M1479.4 644.7L1498.6 632.7M1539.0 626.3V653.1M1529.4 633.7L1548.6 645.7M1529.4 645.7L1548.6 633.7M345.5 946.4V973.2M335.9 953.8L355.1 965.8M335.9 965.8L355.1 953.8M1280.2 116.4V143.2M1270.6 123.8L1289.8 135.8M1270.6 135.8L1289.8 123.8" stroke="#000" stroke-width="3.8" fill="none"/>
<g fill="#000"><circle cx="511.9" cy="984.9" r="11.2"/><circle cx="587.5" cy="984.9" r="11.2"/><circle cx="629" cy="944.1" r="11.2"/><circle cx="920.5" cy="1015.2" r="11.2"/><circle cx="1150.2" cy="1004.5" r="11.2"/><circle cx="1327.2" cy="1034.1" r="11.2"/><circle cx="1449.2" cy="1020.2" r="11.2"/><circle cx="1283.2" cy="240.9" r="11.4"/></g>
<g class="t" font-weight="bold" font-size="67" text-anchor="middle">
<text x="176.5" y="1479.2">20</text>
<text x="640" y="1479.2">40</text>
<text x="1104.2" y="1479.2">60</text>
<text x="1566.8" y="1479.2">80</text>
</g>
<text class="t" font-size="74" font-weight="bold" y="1593"><tspan x="686">2</tspan><tspan x="732.8" font-size="71" font-family="'Liberation Serif',serif" font-style="italic" font-weight="normal" textLength="43.7" lengthAdjust="spacingAndGlyphs">θ</tspan><tspan x="782.6" font-size="80" font-family="'Liberation Serif',serif" font-weight="normal">/</tspan> <tspan x="823.3" textLength="236.7" lengthAdjust="spacingAndGlyphs">degree</tspan></text>
<text class="t" font-size="74" font-weight="bold" transform="translate(70.5,976.4) rotate(-90) scale(0.977,1)" x="0" y="0">Intensity / a.u.</text>
<g class="t" font-size="68">
<text x="1334.2" y="154.3">MoO<tspan font-size="42" x="1480" y="177.7">3</tspan></text>
<text x="1330" y="255.2">Mo<tspan font-size="42" x="1424.8" y="279">2</tspan><tspan x="1447.5" y="255.2">C</tspan></text>
</g>
<g class="t" font-size="67" text-anchor="end">
<text x="1557.5" y="573.7">(d)</text>
<text x="1557.7" y="854.6">(c)</text>
<text x="1557.7" y="1037.7">(b)</text>
<text x="1557.7" y="1190.5">(a)</text>
</g>
</svg>
</body></html>
